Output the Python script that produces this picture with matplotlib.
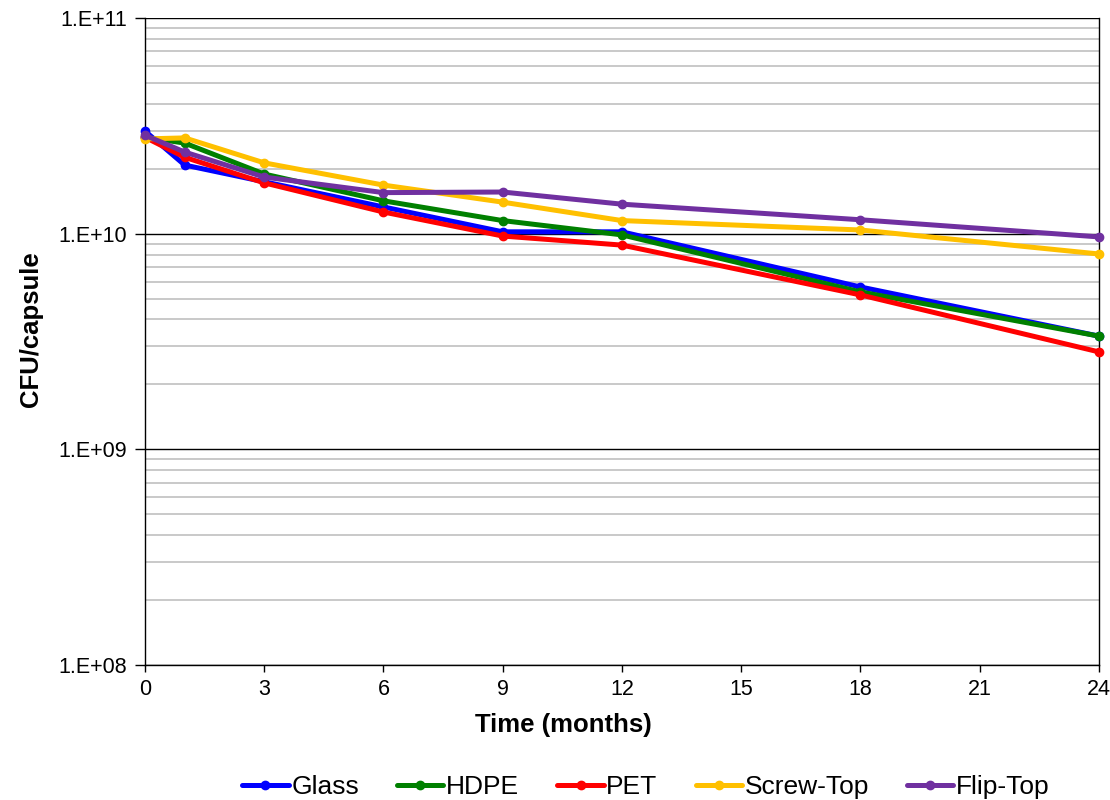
import math
import matplotlib
matplotlib.use("Agg")
import matplotlib.pyplot as plt
from matplotlib.ticker import LogLocator, FuncFormatter, NullFormatter

plt.rcParams['font.family'] = ['Liberation Sans', 'DejaVu Sans']

months = [0, 1, 3, 6, 9, 12, 18, 24]
glass = [2.99e10, 2.08e10, 1.74e10, 1.33e10, 1.02e10, 1.02e10, 5.66e9, 3.35e9]
hdpe = [2.80e10, 2.63e10, 1.89e10, 1.42e10, 1.15e10, 9.87e9, 5.37e9, 3.35e9]
pet = [2.80e10, 2.26e10, 1.72e10, 1.26e10, 9.75e9, 8.85e9, 5.20e9, 2.83e9]
screw_top = [2.75e10, 2.78e10, 2.13e10, 1.68e10, 1.40e10, 1.15e10, 1.04e10, 8.05e9]
flip_top = [2.86e10, 2.39e10, 1.83e10, 1.55e10, 1.56e10, 1.37e10, 1.16e10, 9.66e9]

series_names = ['Glass', 'HDPE', 'PET', 'Screw-Top', 'Flip-Top']
series_vals = [glass, hdpe, pet, screw_top, flip_top]
colors = ['#0000FF', '#008000', '#FF0000', '#FFC000', '#7030A0']
x_ticks = [0, 3, 6, 9, 12, 15, 18, 21, 24]

fig = plt.figure(figsize=(11.1, 8.0), dpi=100)
ax = fig.add_axes([0.1306, 0.16875, 0.8594, 0.80875])

for name, vals, c in zip(series_names, series_vals, colors):
    ax.plot(months, vals, color=c, lw=3.6, marker='o', ms=6, label=name,
            solid_capstyle='round', clip_on=False, zorder=3)

ax.set_yscale('log')
ax.set_ylim(1e8, 1e11)
ax.set_xlim(0, 24)
ax.set_xticks(x_ticks)
ax.yaxis.set_major_locator(LogLocator(base=10, numticks=10))
ax.yaxis.set_minor_locator(LogLocator(base=10, subs=range(2, 10), numticks=20))
ax.yaxis.set_minor_formatter(NullFormatter())
ax.yaxis.set_major_formatter(FuncFormatter(lambda v, p: '1.E+%02d' % round(math.log10(v))))

ax.grid(True, which='minor', axis='y', color='#c0c0c0', lw=1.2, zorder=0)
ax.grid(True, which='major', axis='y', color='black', lw=1.0, zorder=1)
ax.tick_params(axis='y', which='minor', length=0)
ax.tick_params(axis='y', which='major', length=7, width=1, direction='out', labelsize=15.5, pad=6)
ax.tick_params(axis='x', which='major', length=5, width=1, direction='out', labelsize=15.5, pad=5)

for s in ax.spines.values():
    s.set_color('black')
    s.set_linewidth(1.0)
ax.spines['top'].set_visible(False)

ax.set_xlabel('Time (months)', fontsize=18.5, fontweight='bold')
ax.xaxis.set_label_coords(0.439, -0.074)
ax.set_ylabel('CFU/capsule', fontsize=18.5, fontweight='bold')
ax.yaxis.set_label_coords(-0.107, 0.519)

leg = fig.legend(loc='center', bbox_to_anchor=(0.582, 0.016), ncol=5, frameon=False,
                 fontsize=19, handlelength=1.75, handletextpad=0.1, columnspacing=1.45,
                 borderaxespad=0, borderpad=0)

fig.savefig('out.png', dpi=100)
